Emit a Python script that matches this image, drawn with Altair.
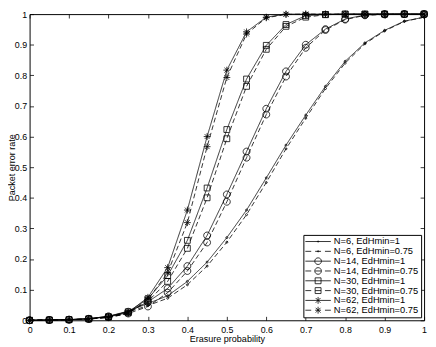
import altair as alt
import pandas as pd

# ---------------- data ----------------
erasure = [0.0, 0.05, 0.1, 0.15, 0.2, 0.25, 0.3, 0.35, 0.4, 0.45, 0.5,
           0.55, 0.6, 0.65, 0.7, 0.75, 0.8, 0.85, 0.9, 0.95, 1.0]

series_names = ["N=6, EdHmin=1", "N=6, EdHmin=0.75",
                "N=14, EdHmin=1", "N=14, EdHmin=0.75",
                "N=30, EdHmin=1", "N=30, EdHmin=0.75",
                "N=62, EdHmin=1", "N=62, EdHmin=0.75"]
dash_kind = ["solid", "dashed"] * 4
marker_kind = ["dot", "dot", "circle", "circle", "square", "square", "star", "star"]

n6_1 = [0, 0.001, 0.002, 0.005, 0.013, 0.030, 0.055, 0.080, 0.127, 0.190, 0.270,
        0.360, 0.465, 0.572, 0.670, 0.764, 0.846, 0.906, 0.947, 0.977, 0.990]
n6_075 = [0, 0.001, 0.002, 0.004, 0.011, 0.027, 0.048, 0.072, 0.116, 0.177, 0.255,
          0.345, 0.450, 0.560, 0.660, 0.757, 0.840, 0.903, 0.945, 0.976, 0.990]
n14_1 = [0, 0.001, 0.002, 0.005, 0.013, 0.028, 0.060, 0.104, 0.177, 0.277, 0.411,
         0.551, 0.691, 0.813, 0.900, 0.951, 0.984, 0.997, 1.0, 1.0, 1.0]
n14_075 = [0, 0.001, 0.002, 0.004, 0.010, 0.022, 0.045, 0.090, 0.161, 0.254, 0.387,
           0.531, 0.672, 0.796, 0.890, 0.948, 0.982, 0.996, 0.999, 1.0, 1.0]
n30_1 = [0, 0.001, 0.002, 0.005, 0.012, 0.028, 0.070, 0.146, 0.261, 0.432, 0.623,
         0.788, 0.898, 0.966, 0.995, 0.999, 1.0, 1.0, 1.0, 1.0, 1.0]
n30_075 = [0, 0.001, 0.002, 0.004, 0.010, 0.024, 0.062, 0.127, 0.235, 0.400, 0.593,
           0.764, 0.885, 0.960, 0.990, 0.998, 1.0, 1.0, 1.0, 1.0, 1.0]
n62_1 = [0, 0.001, 0.002, 0.005, 0.011, 0.025, 0.075, 0.172, 0.360, 0.600, 0.817,
         0.942, 0.990, 1.0, 1.0, 1.0, 1.0, 1.0, 1.0, 1.0, 1.0]
n62_075 = [0, 0.001, 0.002, 0.004, 0.009, 0.022, 0.068, 0.155, 0.319, 0.567, 0.793,
           0.935, 0.988, 0.999, 1.0, 1.0, 1.0, 1.0, 1.0, 1.0, 1.0]

tick_values = [0, 0.1, 0.2, 0.3, 0.4, 0.5, 0.6, 0.7, 0.8, 0.9, 1]

all_values = [n6_1, n6_075, n14_1, n14_075, n30_1, n30_075, n62_1, n62_075]

rows = []
for name, dk, mk, vals in zip(series_names, dash_kind, marker_kind, all_values):
    for p, v in zip(erasure, vals):
        rows.append({"series": name, "dash": dk, "marker": mk, "p": p, "v": v})
df = pd.DataFrame(rows)

# ---------------- styling ----------------
FONT = "Liberation Sans"
W, H = 402, 312

plot_shape = {
    "dot": "M0.3,0A0.3,0.3,0,1,1,-0.3,0A0.3,0.3,0,1,1,0.3,0",
    "circle": "M1,0A1,1,0,1,1,-1,0A1,1,0,1,1,1,0",
    "square": "M-0.85,-0.85H0.85V0.85H-0.85Z",
    "star": "M-1,0H1M0,-1V1M-0.7,-0.7L0.7,0.7M-0.7,0.7L0.7,-0.7",
}
# legend symbols: unit = 3 px (symbolSize 36), centre of the symbol slot at 4.75 px
leg_line = {"solid": "M-1.58,0H7.08",
            "dashed": "M-1.58,0H0.42M1.75,0H3.75M5.08,0H7.08"}
leg_marker = {
    "dot": "M2.98,0A0.23,0.23,0,1,1,2.52,0A0.23,0.23,0,1,1,2.98,0",
    "circle": "M3.88,0A1.13,1.13,0,1,1,1.62,0A1.13,1.13,0,1,1,3.88,0",
    "square": "M1.75,-1H3.75V1H1.75Z",
    "star": "M2.75,-1.17V1.17M1.93,-0.82L3.57,0.82M1.93,0.82L3.57,-0.82",
}
plot_shapes = [plot_shape[m] for m in marker_kind]
legend_shapes = [leg_line[d] + leg_marker[m] for d, m in zip(dash_kind, marker_kind)]

tick_common = dict(grid=False, domain=False, tickSize=4, tickColor="black",
                   tickWidth=0.8, offset=-4, values=tick_values)
label_common = dict(labelFont=FONT, labelFontSize=9, labelColor="black",
                    labelFlush=False, format="~g")

x_bottom = alt.Axis(orient="bottom", title="Erasure probability", labelPadding=5.5,
                    titleFont=FONT, titleFontSize=9.2, titleFontWeight="normal",
                    titleColor="black", titleX=W / 2, titleY=26,
                    titleBaseline="alphabetic", titleAlign="center",
                    **tick_common, **label_common)
y_left = alt.Axis(orient="left", title="Packet error rate", labelPadding=3,
                  titleFont=FONT, titleFontSize=9.2, titleFontWeight="normal",
                  titleColor="black", titleAngle=270, titleX=-19, titleY=H / 2,
                  titleBaseline="alphabetic", titleAlign="center",
                  **tick_common, **label_common)
x_top = alt.Axis(orient="top", title=None, labels=False, **tick_common)
y_right = alt.Axis(orient="right", title=None, labels=False, **tick_common)

xscale = alt.Scale(domain=[0, 1], nice=False, zero=False)
yscale = alt.Scale(domain=[0, 1], nice=False, zero=False)

lines = alt.Chart(df).mark_line(color="black", strokeWidth=0.8).encode(
    x=alt.X("p:Q", scale=xscale, axis=x_bottom),
    y=alt.Y("v:Q", scale=yscale, axis=y_left),
    detail="series:N",
    strokeDash=alt.StrokeDash("dash:N", scale=alt.Scale(domain=["solid", "dashed"],
                                                        range=[[1, 0], [5, 3]]),
                              legend=None),
    order="p:Q",
)

points = alt.Chart(df).mark_point(color="black", filled=False, strokeWidth=0.8,
                                  size=49, opacity=1).encode(
    x=alt.X("p:Q", scale=xscale, axis=x_top),
    y=alt.Y("v:Q", scale=yscale, axis=y_right),
    shape=alt.Shape("series:N", scale=alt.Scale(domain=series_names, range=plot_shapes),
                    legend=None),
)

legend_layer = alt.Chart(df).mark_point(color="black", filled=False, strokeWidth=0.8,
                                        size=36, opacity=0).encode(
    x=alt.X("p:Q", scale=xscale, axis=None),
    y=alt.Y("v:Q", scale=yscale, axis=None),
    shape=alt.Shape("series:N",
                    scale=alt.Scale(domain=series_names, range=legend_shapes),
                    legend=alt.Legend(title=None, orient="bottom-right", offset=3,
                                      padding=2, strokeColor="black", fillColor="white",
                                      cornerRadius=0, symbolSize=36,
                                      symbolStrokeColor="black", symbolStrokeWidth=0.8,
                                      symbolFillColor="transparent",
                                      labelFont=FONT, labelFontSize=9.5,
                                      labelColor="black", labelOffset=19.5,
                                      rowPadding=-1.4,
                                      labelLimit=200)),
)

chart = alt.layer(lines, points, legend_layer).resolve_scale(
    shape="independent", strokeDash="independent"
).resolve_axis(
    x="independent", y="independent"
).properties(
    width=W, height=H,
    autosize=alt.AutoSizeParams(type="none"),
    padding={"left": 22, "top": 3, "right": 4, "bottom": 24},
    background="white",
).configure_view(stroke="black", strokeWidth=1)

chart.save("out.html", embed_options={"renderer": "svg", "actions": False})
